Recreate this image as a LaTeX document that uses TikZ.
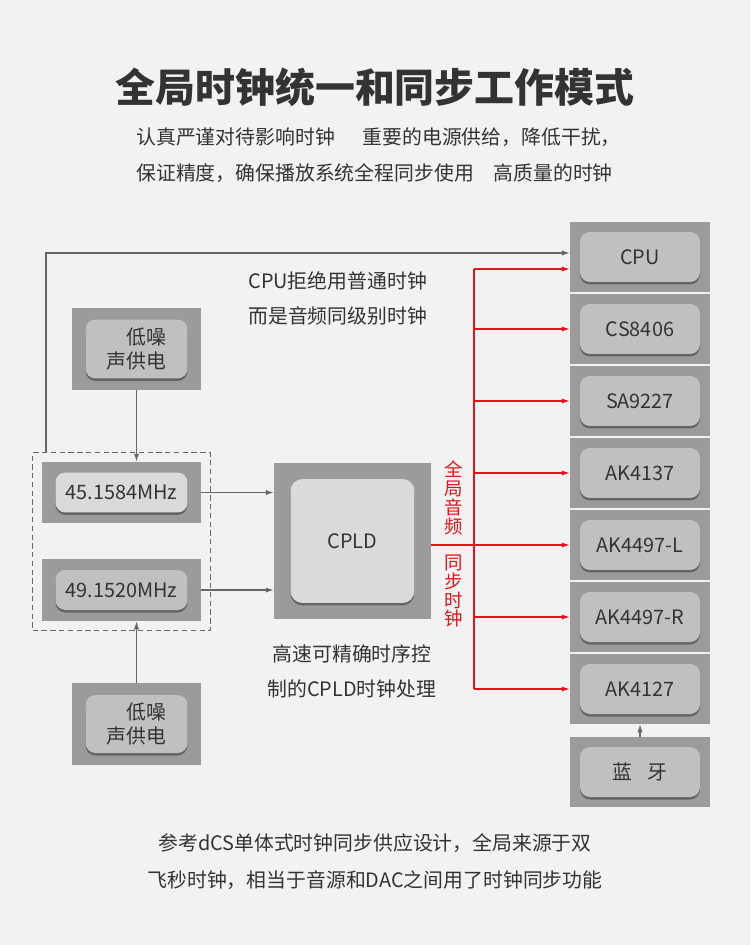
\documentclass[tikz,border=0pt]{standalone}
\usepackage{fontspec}
\setmainfont{Noto Sans CJK SC}
\usetikzlibrary{arrows.meta,fit,shadows}
\definecolor{bgc}{HTML}{F2F2F2}
\definecolor{boxc}{HTML}{9B9B9B}
\definecolor{chipc}{HTML}{C0C0C0}
\definecolor{chiplc}{HTML}{DADADA}
\definecolor{txtc}{HTML}{333333}
\definecolor{linec}{HTML}{666666}
\definecolor{redc}{HTML}{E3141E}

\begin{document}
\begin{tikzpicture}[x=0.02cm,y=-0.02cm,
    font=\fontsize{11.3}{13.5}\selectfont, text=txtc,
    outbox/.style={fill=boxc, inner sep=0pt},
    chip/.style={fill=chipc, rounded corners=0.2cm, inner sep=0pt,
        font=\fontsize{11.3}{14}\selectfont,
        drop shadow={shadow xshift=0pt,shadow yshift=-0.05cm,fill=black,opacity=0.35}},
    note/.style={inner sep=0pt},
    wire/.style={semithick, draw=linec, -{Latex[length=4.5pt,width=3pt]}},
    clk/.style={semithick, draw=redc, -{Latex[length=4.5pt,width=3pt]}}]
        %背景
        \fill [bgc] (0,0) rectangle (750,945);
        %标题
        \node [font=\fontsize{22.7}{26}\selectfont\bfseries] (title) at (375,87) {全局时钟统一和同步工作模式};
        \node [note,anchor=west] (sub1) at (136,137) {认真严谨对待影响时钟\hspace{1.4em}重要的电源供给，降低干扰，};
        \node [note,anchor=west] (sub2) at (136,173) {保证精度，确保播放系统全程同步使用\hspace{1em}高质量的时钟};
        %右侧芯片
        \foreach \n/\t/\y in {cpu/CPU/257, cs/CS8406/329, sa/SA9227/401, akb/AK4137/473,
                dacl/AK4497-L/545, dacr/AK4497-R/617, akc/AK4127/689, bt/蓝\hspace{0.75em}牙/772} {
            \node [outbox, minimum width=2.8cm, minimum height=1.4cm] (\n) at (640,\y) {};
            \node [chip, minimum width=2.4cm, minimum height=1cm] at (\n) {\t};
        }
        %供电与晶振
        \node [outbox, minimum width=2.58cm, minimum height=1.64cm] (pwa) at (136.5,349) {};
        \node [chip, minimum width=2.04cm, minimum height=1.18cm, align=right] at (pwa) {低噪\\声供电};
        \node [outbox, minimum width=3.18cm, minimum height=1.22cm] (osca) at (121.5,492.5) {};
        \node [chip, fill=chiplc, minimum width=2.64cm, minimum height=0.8cm] at (osca) {45.1584MHz};
        \node [outbox, minimum width=3.18cm, minimum height=1.24cm] (oscb) at (121.5,590) {};
        \node [chip, minimum width=2.64cm, minimum height=0.8cm] at (oscb) {49.1520MHz};
        \node [draw=linec, thin, dash pattern=on 3pt off 2pt, fit=(osca)(oscb), inner sep=0.18cm] (grp) {};
        \node [outbox, minimum width=2.58cm, minimum height=1.64cm] (pwb) at (136.5,724) {};
        \node [chip, minimum width=2.04cm, minimum height=1.16cm, align=right] at (pwb) {低噪\\声供电};
        %CPLD
        \node [outbox, minimum width=3.14cm, minimum height=3.12cm] (cpld) at (352.5,541) {};
        \node [chip, fill=chiplc, minimum size=2.48cm, rounded corners=0.24cm] at (cpld) {CPLD};
        %说明文字
        \node [note,anchor=west] at (248,281) {CPU拒绝用普通时钟};
        \node [note,anchor=west] at (248,316) {而是音频同级别时钟};
        \node [note] at (352,654) {高速可精确时序控};
        \node [note] at (352,689) {制的CPLD时钟处理};
        \node [note] at (375,843) {参考dCS单体式时钟同步供应设计，全局来源于双};
        \node [note] at (375,880) {飞秒时钟，相当于音源和DAC之间用了时钟同步功能};
        \node [note, text=redc, align=center, font=\fontsize{10.5}{10.8}\selectfont] at (454,498) {全\\局\\音\\频};
        \node [note, text=redc, align=center, font=\fontsize{10.5}{10.8}\selectfont] at (454,591) {同\\步\\时\\钟};
        %灰色连线
        \draw [wire] (pwa.south) -- (pwa.south |- osca.north);
        \draw [wire] (pwb.north) -- (pwb.north |- oscb.south);
        \draw [wire] (osca.east) -- (osca.east -| cpld.west);
        \draw [wire] (oscb.east) -- (oscb.east -| cpld.west);
        \coordinate (lt) at (46,253);
        \draw [wire] (grp.north -| lt) -- (lt) -- (lt -| cpu.west);
        \draw [wire] (bt.north) -- (akc.south);
        %红色时钟总线
        \coordinate (bus) at (474,269);
        \draw [clk] (bus) -- (bus -| cpu.west);
        \draw [semithick, redc] (bus) -- (bus |- akc);
        \draw [semithick, redc] (cpld.east |- dacl) -- (bus |- dacl);
        \foreach \n in {cs,sa,akb,dacl,dacr,akc}
            \draw [clk] (bus |- \n) -- (\n.west);
    \end{tikzpicture}
\end{document}
